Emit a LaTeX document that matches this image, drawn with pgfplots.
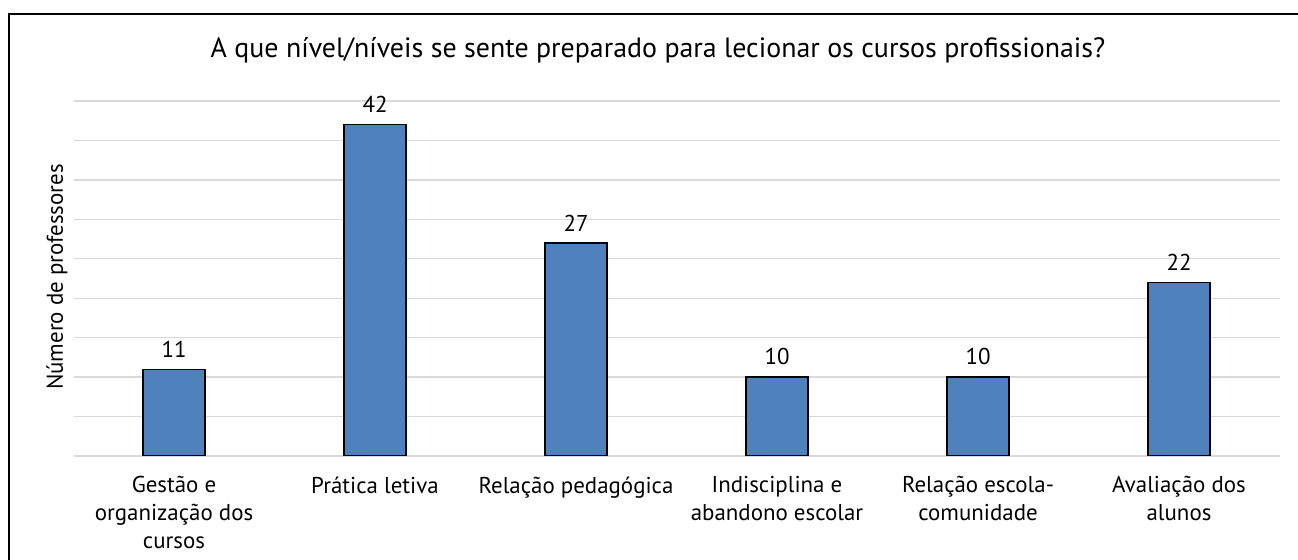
\documentclass[border=0pt]{standalone}
\usepackage{pgfplots}
\pgfplotsset{compat=1.18}
\usepackage{fontspec}
\setmainfont{PT Sans}
\definecolor{barblue}{HTML}{4F81BD}
\definecolor{gridgray}{HTML}{D9D9D9}
\begin{document}
\begin{tikzpicture}[x=1bp,y=1bp]
\useasboundingbox (0,0) rectangle (1298,560);
\fill[white] (0,0) rectangle (1298,560);
\draw[line width=2bp] (9,0) -- (9,546) -- (1298,546);
\node[font=\fontsize{28}{32}\selectfont] at (658,510) {A que nível/níveis se sente preparado para lecionar os cursos profissionais?};
\node[font=\fontsize{23}{27}\selectfont, rotate=90] at (57,283) {Número de professores};
\begin{axis}[
  at={(73.5bp,104bp)}, anchor=south west, scale only axis,
  width=1206bp, height=355bp,
  xmin=-0.5, xmax=5.5, ymin=0, ymax=45,
  ytick={0,5,...,45}, yticklabels={},
  ymajorgrids, grid style={gridgray, line width=1.3bp},
  axis line style={draw=none},
  major tick length=0pt,
  xtick={0,...,5},
  xticklabels={{Gestão e\\organização dos\\cursos},{Prática letiva},{Relação pedagógica},{Indisciplina e\\abandono escolar},{Relação escola-\\comunidade},{Avaliação dos\\alunos}},
  xticklabel style={align=center, font=\fontsize{23}{28}\selectfont, yshift=-17bp},
  ybar, bar width=62bp,
  nodes near coords,
  /pgf/number format/assume math mode=true,
  nodes near coords style={font=\fontsize{23}{27}\selectfont, yshift=8bp},
]
\addplot[fill=barblue, draw=black, line width=1.3bp] coordinates {(0,11) (1,42) (2,27) (3,10) (4,10) (5,22)};
\end{axis}
\end{tikzpicture}
\end{document}
